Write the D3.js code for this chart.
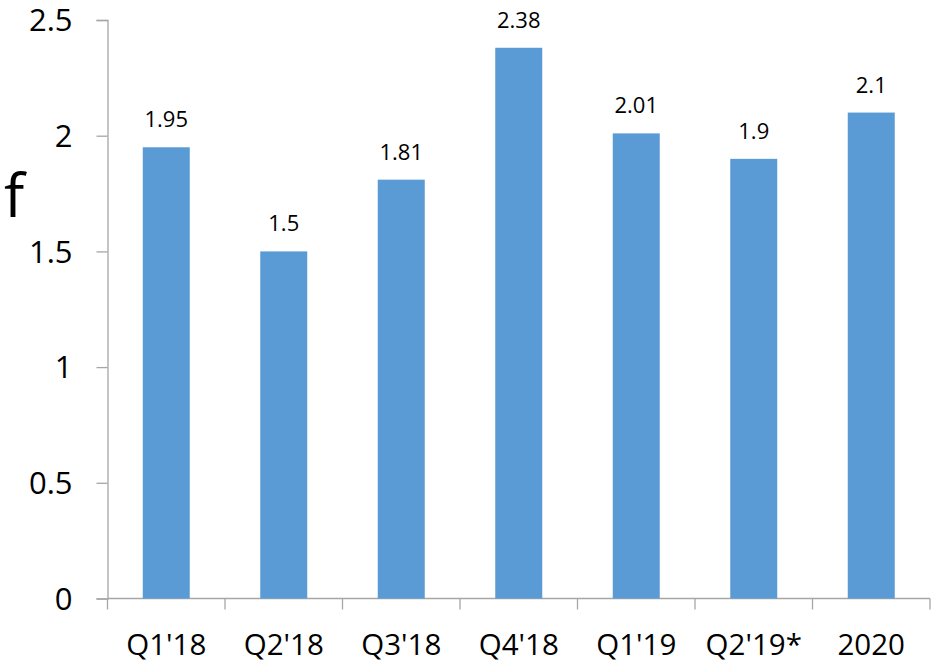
<!DOCTYPE html>
<html>
<head>
<meta charset="utf-8">
<script src="https://cdn.jsdelivr.net/npm/d3@7"></script>
<style>
  html, body { margin: 0; padding: 0; background: #fff; }
  svg { display: block; }
  text { font-family: "Open Sans", "Liberation Sans", sans-serif; fill: #000; }
</style>
</head>
<body>
<svg id="chart" width="932" height="663"></svg>
<script>
const categories = ["Q1'18", "Q2'18", "Q3'18", "Q4'18", "Q1'19", "Q2'19*", "2020"];
const values = [1.95, 1.5, 1.81, 2.38, 2.01, 1.9, 2.1];
const yTicks = [0, 0.5, 1, 1.5, 2, 2.5];
const yTitle = "f";

const svg = d3.select("#chart");
const plotLeft = 107.5, plotRight = 930, plotTop = 20, plotBottom = 598.5;
const axisColor = "#a6a6a6";
const barColor = "#5b9bd5";

const x = d3.scaleBand().domain(categories).range([plotLeft, plotRight])
  .paddingInner(0.6).paddingOuter(0.3);
const y = d3.scaleLinear().domain([0, 2.5]).range([plotBottom, plotTop]);

// y axis
const yAxis = svg.append("g").attr("transform", `translate(${plotLeft},0)`)
  .call(d3.axisLeft(y).tickValues(yTicks).tickSize(11).tickPadding(24)
    .tickFormat(d => String(d)));
yAxis.select(".domain").attr("stroke", axisColor).attr("stroke-width", 1.3);
yAxis.selectAll(".tick line").attr("stroke", axisColor).attr("stroke-width", 1.3);
yAxis.selectAll(".tick text").style("font-size", "31px").attr("dy", "0.35em");

// x axis with boundary ticks between categories
const step = x.step();
const boundaries = d3.range(categories.length + 1).map(i => plotLeft + i * step);
svg.append("line").attr("x1", plotLeft).attr("x2", plotRight)
  .attr("y1", plotBottom).attr("y2", plotBottom)
  .attr("stroke", axisColor).attr("stroke-width", 1.3);
svg.append("g").selectAll("line").data(boundaries).join("line")
  .attr("x1", d => d).attr("x2", d => d).attr("y1", plotBottom).attr("y2", plotBottom + 11)
  .attr("stroke", axisColor).attr("stroke-width", 1.3);
svg.append("g").selectAll("text").data(categories).join("text")
  .attr("x", d => x(d) + x.bandwidth() / 2).attr("y", 655)
  .attr("text-anchor", "middle").style("font-size", "29.5px").text(d => d);

// bars
svg.append("g").selectAll("rect").data(values).join("rect")
  .attr("x", (d, i) => x(categories[i])).attr("width", x.bandwidth())
  .attr("y", d => y(d)).attr("height", d => plotBottom - y(d))
  .attr("fill", barColor);

// value labels
svg.append("g").selectAll("text").data(values).join("text")
  .attr("x", (d, i) => x(categories[i]) + x.bandwidth() / 2)
  .attr("y", d => y(d) - 20)
  .attr("text-anchor", "middle").style("font-size", "22px")
  .text(d => String(d));

// axis title
svg.append("text").attr("x", 4).attr("y", 217).style("font-size", "60px").text(yTitle);
</script>
</body>
</html>
